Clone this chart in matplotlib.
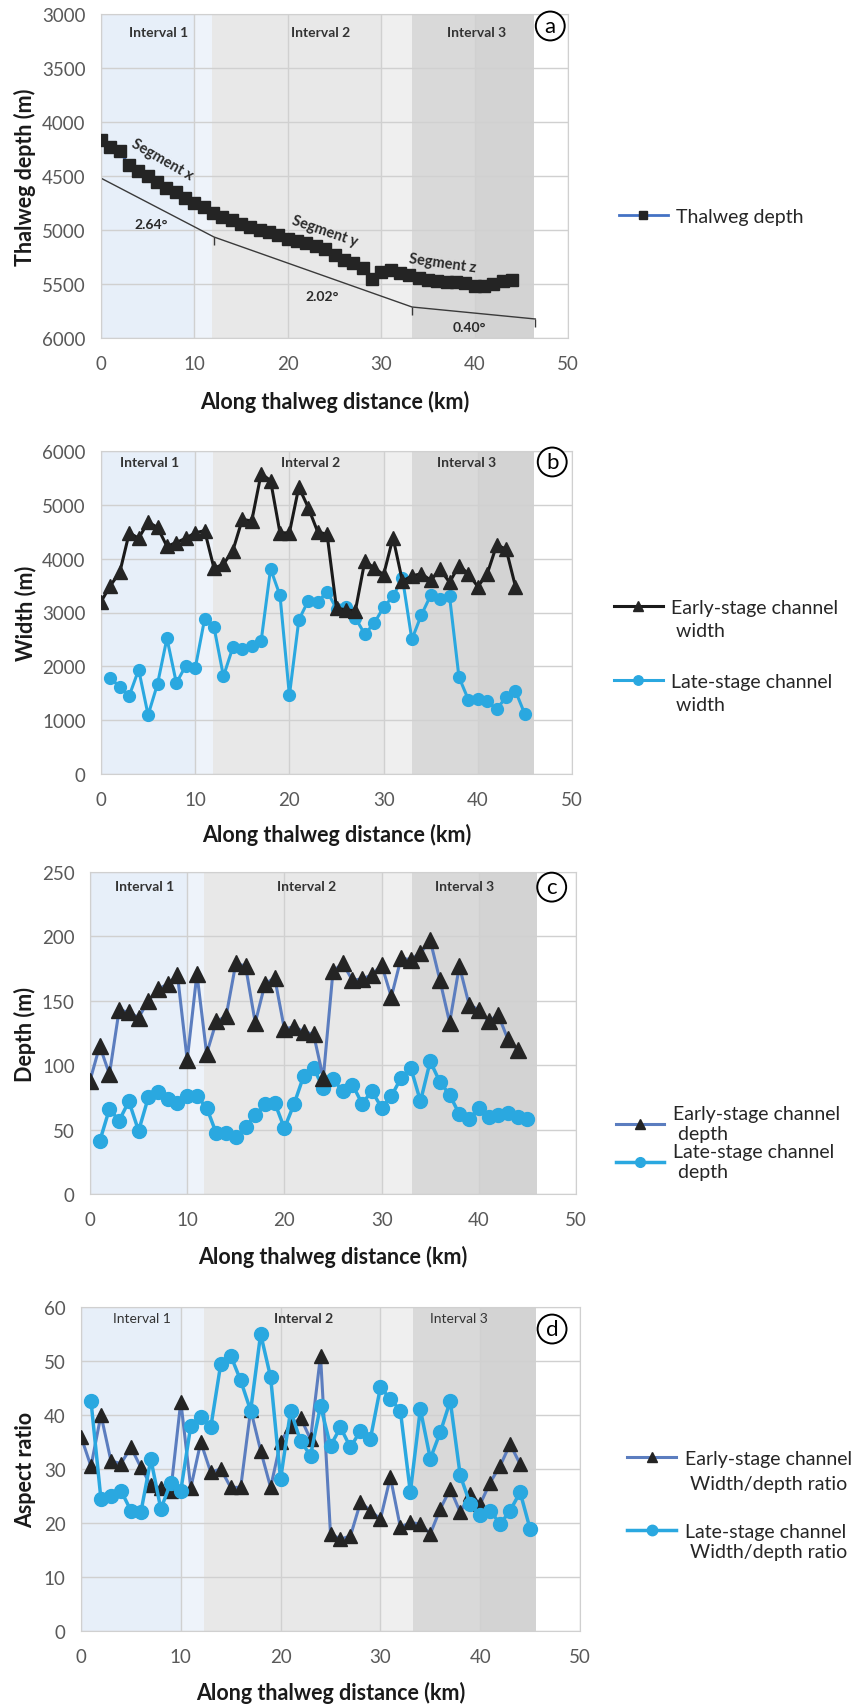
import matplotlib
matplotlib.use("Agg")
import matplotlib.pyplot as plt
from matplotlib.lines import Line2D
from matplotlib import transforms

plt.rcParams['font.family'] = ['Lato', 'DejaVu Sans']

# ---- data -------------------------------------------------------------
# (a) thalweg depth profile
km_a = list(range(0, 45))
thalweg_depth = [4170, 4230, 4270, 4400, 4450, 4500, 4560, 4610, 4650, 4700,
                 4750, 4790, 4840, 4880, 4910, 4940, 4970, 5000, 5020, 5050,
                 5080, 5100, 5120, 5150, 5180, 5230, 5280, 5310, 5350, 5450,
                 5390, 5370, 5400, 5420, 5440, 5460, 5470, 5480, 5480, 5490,
                 5520, 5520, 5500, 5470, 5460]

# straight segment fits below the profile
seg_km = [0, 12.1, 33.3, 46.5]
seg_depth = [4520, 5065, 5713, 5824]
seg_angles = ['2.64°', '2.02°', '0.40°']
seg_angle_pos = [(5.4, 4944), (23.7, 5608), (39.4, 5900)]
seg_names = ['Segment x', 'Segment y', 'Segment z']
seg_name_pos = [(6.6, 4343), (23.9, 5006), (36.6, 5300)]
seg_name_rot = [-30, -19, -8]

# (b) channel width
km_early = list(range(0, 45))
km_late = list(range(1, 46))
width_early = [3200, 3500, 3750, 4480, 4380, 4680, 4580, 4230, 4300, 4380,
               4480, 4520, 3820, 3900, 4150, 4730, 4700, 5580, 5450, 4480,
               4480, 5330, 4950, 4500, 4450, 3080, 3050, 3030, 3950, 3830,
               3700, 4390, 3580, 3680, 3720, 3600, 3800, 3560, 3870, 3720,
               3480, 3720, 4250, 4180, 3480]
width_late = [1790, 1610, 1455, 1938, 1096, 1672, 2521, 1690, 2012, 1963,
              2880, 2725, 1815, 2354, 2330, 2380, 2470, 3810, 3320, 1460,
              2860, 3220, 3190, 3390, 3070, 3110, 2900, 2600, 2800, 3100,
              3300, 3640, 2500, 2950, 3320, 3250, 3300, 1800, 1380, 1400,
              1350, 1200, 1430, 1540, 1110]

# (c) channel depth
depth_early = [88, 115, 93, 143, 141, 137, 150, 159, 163, 170,
               104, 171, 109, 134, 138, 179, 177, 133, 163, 168,
               128, 130, 126, 124, 90, 173, 179, 166, 167, 170,
               178, 153, 183, 182, 187, 197, 166, 133, 177, 147,
               143, 134, 139, 120, 112]
depth_late = [41, 66, 57, 72, 49, 75, 79, 74, 71, 76,
              76, 67, 47, 47, 44, 52, 61, 70, 71, 51,
              70, 92, 98, 82, 89, 80, 85, 70, 80, 67,
              76, 90, 98, 72, 103, 87, 77, 62, 58, 67,
              60, 61, 63, 60, 58]

# (d) width/depth ratio
ratio_early = [36, 30.5, 40, 31.5, 31, 34, 30.3, 27, 26.5, 26,
               42.5, 26.5, 35, 29.4, 30, 26.6, 26.6, 41, 33.4, 26.6,
               35, 38, 39.5, 35.5, 51, 18, 17, 17.6, 23.8, 22.3,
               20.7, 28.5, 19.2, 20.1, 19.8, 18, 22.6, 26.3, 22, 25.4,
               23.5, 27.5, 30.6, 34.6, 30.9]
ratio_late = [42.6, 24.4, 25, 26, 22.3, 22, 31.8, 22.6, 27.5, 26,
              38, 39.6, 37.7, 49.4, 51, 46.4, 40.8, 55, 47, 28.1,
              40.8, 35.2, 32.5, 41.7, 34.3, 37.7, 34, 37.1, 35.6, 45.1,
              43, 40.8, 25.7, 41.1, 31.9, 36.8, 42.6, 28.8, 23.5, 21.4,
              22.3, 19.8, 22.3, 25.7, 18.9]

interval_names = ['Interval 1', 'Interval 2', 'Interval 3']

# ---- styling ----------------------------------------------------------
W, H = 856, 1706
fig = plt.figure(figsize=(W / 100, H / 100), dpi=100)

def px_axes(l, r, t, b):
    return fig.add_axes([l / W, 1 - b / H, (r - l) / W, (b - t) / H])

BLUE_LATE = '#2aa8e0'
BLUE_LINE = '#5b7dbf'
DARK = '#242424'
TICK_C = '#595959'


def shade(ax, i1, i3, end):
    ax.axvspan(0, 10, color='#e7eff9', lw=0, zorder=0)
    ax.axvspan(10, i1, color='#eef3fa', lw=0, zorder=0)
    ax.axvspan(i1, 30, color='#e8e8e8', lw=0, zorder=0)
    ax.axvspan(30, i3, color='#efefef', lw=0, zorder=0)
    ax.axvspan(i3, 40, color='#d9d9d9', lw=0, zorder=0)
    ax.axvspan(40, end, color='#d3d3d3', lw=0, zorder=0)


def style(ax, ylim, yticks, ylabel, ylab_x, xlab_y):
    ax.set_xlim(0, 50)
    ax.set_xticks(range(0, 51, 10))
    ax.set_ylim(*ylim)
    ax.set_yticks(yticks)
    ax.grid(True, color='#d0d0d0', lw=1.0)
    ax.set_axisbelow(True)
    ax.tick_params(length=0, labelsize=13.5, labelcolor=TICK_C)
    ax.tick_params(axis='x', pad=12)
    ax.tick_params(axis='y', pad=11)
    for s in ax.spines.values():
        s.set_color('#d0d0d0')
    ax.set_xlabel('Along thalweg distance (km)', fontsize=15.5,
                  fontweight='bold', color='#1a1a1a')
    ax.xaxis.set_label_coords(0.5, xlab_y)
    ax.set_ylabel(ylabel, fontsize=15.5, fontweight='bold', color='#1a1a1a')
    ax.yaxis.set_label_coords(ylab_x, 0.5)


def intervals(ax, xs, y, weights=('bold', 'bold', 'bold')):
    tr = transforms.blended_transform_factory(ax.transData, ax.transAxes)
    for name, x, w in zip(interval_names, xs, weights):
        ax.text(x, y, name, transform=tr, ha='center', va='center',
                fontsize=10, fontweight=w, color='#333333', zorder=5)


def letter(ax, s, x, y):
    tr = transforms.blended_transform_factory(ax.transData, ax.transAxes)
    ax.text(x, y, s, transform=tr, ha='center', va='center', fontsize=16,
            color='black', zorder=6,
            bbox=dict(boxstyle='circle,pad=0.2', fc='white', ec='black', lw=1.4))


leg_kw = dict(loc='center left', frameon=False, fontsize=14,
              handlelength=2.5, handletextpad=0.45, borderpad=0,
              borderaxespad=0, labelcolor='#262626')
blank = Line2D([], [], alpha=0)

# ---- (a) --------------------------------------------------------------
ax = px_axes(101, 568, 15, 339)
shade(ax, 11.9, 33.3, 46.4)
la, = ax.plot(km_a, thalweg_depth, color='#4472c4', lw=2, marker='s', ms=8,
              mfc=DARK, mec=DARK, zorder=3)
ax.plot(seg_km, seg_depth, color='#3a3a3a', lw=1, zorder=2)
ax.vlines(seg_km[1:], seg_depth[1:], [d + 75 for d in seg_depth[1:]],
          color='#3a3a3a', lw=1, zorder=2)
for t, (x, y) in zip(seg_angles, seg_angle_pos):
    ax.text(x, y, t, ha='center', va='center', fontsize=10, fontweight='bold',
            color='#2a2a2a', zorder=5)
for t, (x, y), r in zip(seg_names, seg_name_pos, seg_name_rot):
    ax.text(x, y, t, ha='center', va='center', fontsize=10.5, fontweight='bold',
            color='#2a2a2a', rotation=r, rotation_mode='anchor', zorder=5)
style(ax, (6000, 3000), range(3000, 6001, 500), 'Thalweg depth (m)', -0.140, -0.160)
intervals(ax, [6.2, 23.5, 40.2], 0.944)
letter(ax, 'a', 48.1, 0.963)
ax.legend([la], ['Thalweg depth'], markerscale=0.8,
          bbox_to_anchor=(1.109, 0.376), **leg_kw)

# ---- (b) --------------------------------------------------------------
ax = px_axes(101, 572, 452, 775)
shade(ax, 11.9, 33.0, 46.0)
lb2, = ax.plot(km_late, width_late, color=BLUE_LATE, lw=2.2, marker='o', ms=8.5,
               mfc=BLUE_LATE, mec=BLUE_LATE, zorder=3)
lb1, = ax.plot(km_early, width_early, color='#1a1a1a', lw=2.2, marker='^', ms=9.5,
               mfc=DARK, mec=DARK, zorder=4)
style(ax, (0, 6000), range(0, 6001, 1000), 'Width (m)', -0.137, -0.153)
intervals(ax, [5.2, 22.3, 38.8], 0.965)
letter(ax, 'b', 47.9, 0.966)
g1 = ax.legend([lb1, blank], ['Early-stage channel', ' width'], labelspacing=0.3,
               markerscale=0.8, bbox_to_anchor=(1.089, 0.481), **leg_kw)
ax.add_artist(g1)
ax.legend([lb2, blank], ['Late-stage channel', ' width'], labelspacing=0.3,
          markerscale=0.8, bbox_to_anchor=(1.089, 0.251), **leg_kw)

# ---- (c) --------------------------------------------------------------
ax = px_axes(90, 576, 873, 1195)
shade(ax, 11.7, 33.1, 46.0)
lc2, = ax.plot(km_late, depth_late, color=BLUE_LATE, lw=2.5, marker='o', ms=10,
               mfc=BLUE_LATE, mec=BLUE_LATE, zorder=3)
lc1, = ax.plot(km_early, depth_early, color=BLUE_LINE, lw=2.2, marker='^', ms=11,
               mfc=DARK, mec=DARK, zorder=4)
style(ax, (0, 250), range(0, 251, 50), 'Depth (m)', -0.112, -0.158)
intervals(ax, [5.6, 22.3, 38.5], 0.956)
letter(ax, 'c', 47.5, 0.953)
ax.legend([lc1, lc2], ['Early-stage channel\n depth', 'Late-stage channel\n depth'],
          labelspacing=0.05, markerscale=0.7,
          bbox_to_anchor=(1.082, 0.16), **leg_kw)

# ---- (d) --------------------------------------------------------------
ax = px_axes(81, 580, 1308, 1632)
shade(ax, 12.3, 33.3, 45.6)
ld1, = ax.plot(km_early, ratio_early, color=BLUE_LINE, lw=2.2, marker='^', ms=10,
               mfc=DARK, mec=DARK, zorder=3)
ld2, = ax.plot(km_late, ratio_late, color=BLUE_LATE, lw=2.5, marker='o', ms=10,
               mfc=BLUE_LATE, mec=BLUE_LATE, zorder=4)
style(ax, (0, 60), range(0, 61, 10), 'Aspect ratio', -0.090, -0.155)
intervals(ax, [6.1, 22.3, 37.9], 0.966, weights=('normal', 'bold', 'normal'))
letter(ax, 'd', 47.2, 0.932)
g1 = ax.legend([ld1, blank], ['Early-stage channel', ' Width/depth ratio'],
               labelspacing=0.4, markerscale=0.75,
               bbox_to_anchor=(1.095, 0.495), **leg_kw)
ax.add_artist(g1)
ax.legend([ld2, blank], ['Late-stage channel', ' Width/depth ratio'],
          labelspacing=0.15, markerscale=0.75,
          bbox_to_anchor=(1.095, 0.276), **leg_kw)

fig.savefig('out.png', dpi=100)
